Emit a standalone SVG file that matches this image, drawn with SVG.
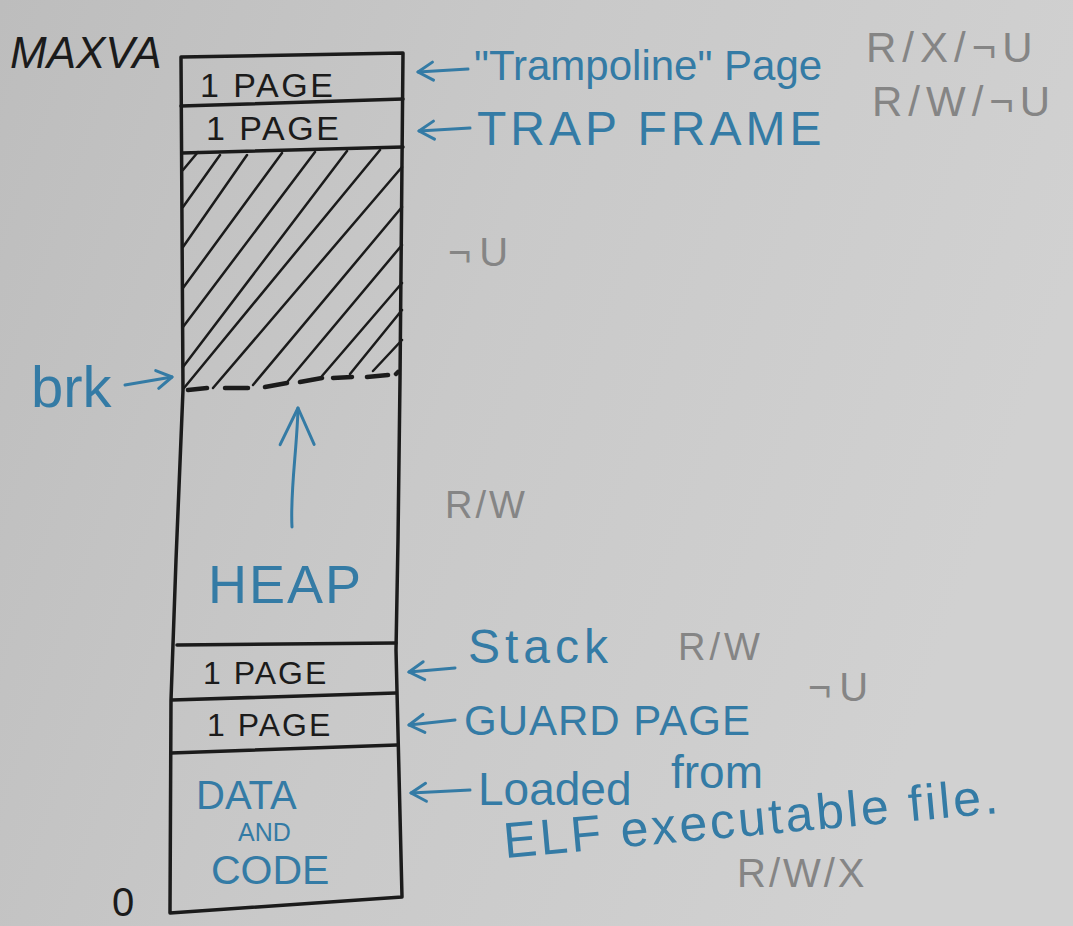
<svg xmlns="http://www.w3.org/2000/svg" width="1073" height="926" viewBox="0 0 1073 926">
<defs>
<linearGradient id="bg" x1="0" y1="0" x2="1" y2="0.3">
<stop offset="0" stop-color="#bdbdbd"/>
<stop offset="0.5" stop-color="#c9c9c9"/>
<stop offset="1" stop-color="#d1d1d1"/>
</linearGradient>
<marker id="head" viewBox="-20 -14 24 28" markerWidth="24" markerHeight="28" refX="0" refY="0" orient="auto" markerUnits="userSpaceOnUse">
<path d="M-15,-9 L0,0 L-15,9" fill="none" stroke="#347ba5" stroke-width="3" stroke-linecap="round" stroke-linejoin="round"/>
</marker>
<marker id="headBig" viewBox="-44 -24 48 48" markerWidth="48" markerHeight="48" refX="0" refY="0" orient="auto" markerUnits="userSpaceOnUse">
<path d="M-37,-17 L0,0 L-36,17" fill="none" stroke="#347ba5" stroke-width="3" stroke-linecap="round" stroke-linejoin="round"/>
</marker>
</defs>
<style>
.ink{fill:none;stroke:#1b1b1b;stroke-width:3.5;stroke-linecap:round;stroke-linejoin:round}
.hatch{fill:none;stroke:#1b1b1b;stroke-width:2.5;stroke-linecap:round}
.dash{fill:none;stroke:#1b1b1b;stroke-width:4.5;stroke-linecap:round}
.arr{fill:none;stroke:#347ba5;stroke-width:3;stroke-linecap:round;marker-end:url(#head)}
.blk{font-family:"Liberation Sans",Arial,sans-serif;fill:#1b1b1b}
.blue{font-family:"Liberation Sans",Arial,sans-serif;fill:#347ba5}
.gray{font-family:"Liberation Sans",Arial,sans-serif;fill:#858585}
</style>
<rect x="0" y="0" width="1073" height="926" fill="url(#bg)"/>

<g id="axis-labels">
<text class="blk" x="10" y="68" font-size="44" font-style="italic">MAXVA</text>
<text class="blk" x="112" y="916" font-size="40">0</text>
</g>

<g id="address-space">
<path class="ink" d="M181,57 L403,53 L400,380 L398,540 L396,650 L402,897 L170,913 L171,700 L176,560 L183,390 Z"/>
</g>

<g id="trampoline-page">
<path class="ink" d="M181,106 L403,99"/>
<text class="blk" x="200" y="97" font-size="34" letter-spacing="2.5">1 PAGE</text>
</g>

<g id="trapframe-page">
<path class="ink" d="M182,153 L403,147"/>
<text class="blk" x="206" y="140" font-size="34" letter-spacing="2.5">1 PAGE</text>
</g>

<g id="unmapped">
<path class="hatch" d="M183,170 L198,152 M183,207 L220,155 M183,247 L247,155 M183,288 L282,153 M183,327 L315,152 M183,367 L347,151 M184,388 L380,150 M213,388 L402,167 M253,385 L402,207 M288,381 L402,245 M322,376 L402,283 M350,374 L402,310 M373,371 L402,340"/>
</g>

<g id="brk">
<path class="dash" d="M188,390 L207,388 M225,388 L248,388 M265,387 L287,383 M300,382 L322,378 M333,378 L352,377 M367,377 L388,375 M396,374 L398,372"/>
<text class="blue" x="31" y="407" font-size="58">brk</text>
</g>

<g id="heap">
<text class="blue" x="208" y="603" font-size="54" letter-spacing="2">HEAP</text>
</g>

<g id="stack-page">
<path class="ink" d="M177,645 L396,643"/>
<text class="blk" x="203" y="684" font-size="32" letter-spacing="2">1 PAGE</text>
</g>

<g id="guard-page">
<path class="ink" d="M172,700 L396,693"/>
<text class="blk" x="207" y="736" font-size="32" letter-spacing="2">1 PAGE</text>
</g>

<g id="data-code">
<path class="ink" d="M171,753 L397,745"/>
<text class="blue" x="196" y="809" font-size="40">DATA</text>
<text class="blue" x="238" y="841" font-size="25">AND</text>
<text class="blue" x="211" y="884" font-size="41">CODE</text>
</g>

<g id="labels">
<text class="blue" x="474" y="80" font-size="42">"Trampoline" Page</text>
<text class="blue" x="477" y="145" font-size="48" letter-spacing="4">TRAP FRAME</text>
<text class="blue" x="468" y="663" font-size="48" letter-spacing="5">Stack</text>
<text class="blue" x="464" y="735" font-size="42" letter-spacing="1">GUARD PAGE</text>
<text class="blue" x="478" y="805" font-size="46">Loaded</text>
<text class="blue" x="671" y="788" font-size="46">from</text>
<text class="blue" x="505" y="858" font-size="50" letter-spacing="3" transform="rotate(-5.2 505 858)">ELF executable file.</text>
</g>

<g id="permissions">
<text class="gray" x="866" y="62" font-size="42" letter-spacing="6">R/X/¬U</text>
<text class="gray" x="872" y="116" font-size="42" letter-spacing="6">R/W/¬U</text>
<text class="gray" x="448" y="266" font-size="40" letter-spacing="8">¬U</text>
<text class="gray" x="445" y="518" font-size="38" letter-spacing="3">R/W</text>
<text class="gray" x="678" y="660" font-size="38" letter-spacing="4">R/W</text>
<text class="gray" x="808" y="701" font-size="40" letter-spacing="8">¬U</text>
<text class="gray" x="737" y="887" font-size="40" letter-spacing="3">R/W/X</text>
</g>

<g id="connectors">
<path class="arr" d="M468,69 L418,72"/>
<path class="arr" d="M470,128 L419,131"/>
<path class="arr" d="M125,385 L172,377"/>
<path fill="none" stroke="#347ba5" stroke-width="3" stroke-linecap="round" marker-end="url(#headBig)" d="M292,527 C290,490 297,450 298,408"/>
<path class="arr" d="M455,668 L409,672"/>
<path class="arr" d="M455,720 L409,725"/>
<path class="arr" d="M470,790 L411,793"/>
</g>
</svg>
